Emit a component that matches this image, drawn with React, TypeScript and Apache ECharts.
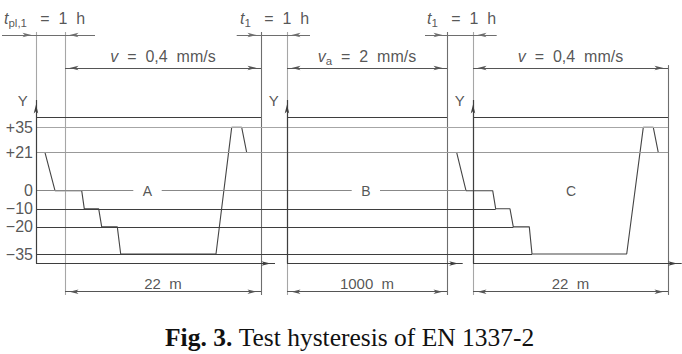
import React, { useEffect, useRef } from "react";
import * as echarts from "echarts";

const W = 682;
const H = 354;

// ---- data ----
const levelValues = [35, 21, 0, -10, -20, -35];
const levelLabels = ["+35", "+21", "0", "−10", "−20", "−35"];
const upperLimit = 40.5;
const timeAxisLevel = -40.2;

// hysteresis cycles: [position along time axis (drawing units), Y]
const cycleA: [number, number][] = [
  [45, 21], [55, 0], [81.7, 0], [84.3, -10], [98.7, -10], [101.7, -20],
  [117.3, -20], [120.7, -35], [216, -35], [231.7, 35], [241.7, 35], [246.7, 21],
];
const cycleC: [number, number][] = [
  [456.7, 21], [466, 0], [492.7, 0], [495.7, -10], [510, -10], [513.3, -20],
  [529.3, -20], [532, -35], [626.7, -35], [643.3, 35], [653.3, 35], [658.3, 21],
];

const panelNames = ["A", "B", "C"];
const holdSubs = ["pl,1", "1", "1"];
const holdValue = "1  h";
const speedSubs = ["", "a", ""];
const speedValues = ["0,4  mm/s", "2  mm/s", "0,4  mm/s"];
const lengthLabels = ["22  m", "1000  m", "22  m"];
const caption = ["Fig. 3.", "Test hysteresis of EN 1337-2"];

// ---- layout (drawing units) ----
const panelAxisX = [36, 287, 473];
const panelStartX = [65, 287, 473];
const panelEndX = [261, 447, 668];
const axisArrowEndX = [275, 462.7, 681.7];
const holdLeftX = [36, 261, 447];
const holdSpan = [[2, 95], [236.7, 310], [425, 496.7]];
const holdTextX = [4, 240, 427];
const namePosX = [147.5, 366, 571];
const zeroGaps = [[133.3, 161.7], [351.7, 380]];

// rows in Y units
const Y_MAX = 105.36;
const Y_MIN = -90.22;
const holdTextY = 95.4;
const holdDimY = 86.0;
const extTopY = 87.7;
const speedTextY = 74.4;
const speedDimY = 67.8;
const speedExtTopY = 69.4;
const yArrowTipY = 50.1;
const lengthTextY = -51.0;
const lengthDimY = -55.8;
const extBottomY = -57.6;

const DARK = "#3e3e3e";
const MID = "#6e6e6e";
const LIGHT = "#a6a6a6";
const TEXT = "#2a2a2a";
const FONT = "Liberation Sans";

function buildOption() {
  const segs: any[] = [];
  const add = (
    x1: number, y1: number, x2: number, y2: number,
    color: string, width = 1.1, fromArrow = false, toArrow = false
  ) => {
    const end = (c: number[], arrow: boolean) => ({
      coord: c,
      symbol: arrow ? "arrow" : "none",
      symbolSize: [3.4, 9],
      symbolOffset: [0, 4.5],
    });
    segs.push([
      { ...end([x1, y1], fromArrow), lineStyle: { color, width, type: "solid" } },
      end([x2, y2], toArrow),
    ]);
  };

  // extension lines
  add(panelAxisX[0], extTopY, panelAxisX[0], yArrowTipY, LIGHT);
  add(panelStartX[0], extTopY, panelStartX[0], extBottomY, LIGHT);
  add(panelEndX[0], extTopY, panelEndX[0], extBottomY, MID);
  add(panelStartX[1], extTopY, panelStartX[1], extBottomY, LIGHT);
  add(panelEndX[1], extTopY, panelEndX[1], extBottomY, MID);
  add(panelStartX[2], extTopY, panelStartX[2], extBottomY, LIGHT);
  add(panelEndX[2], speedExtTopY, panelEndX[2], extBottomY, MID);

  // level lines
  const lastX = panelEndX[2];
  panelAxisX.forEach((x, i) => add(x, upperLimit, panelEndX[i], upperLimit, DARK, 1.2));
  levelValues.forEach((v) => {
    if (v > 0) {
      add(panelAxisX[0], v, lastX, v, v === 35 ? LIGHT : "#999", 1.2);
      return;
    }
    const arrival = (cycleC.find((p) => p[1] === v) as [number, number])[0];
    if (v === 0) {
      add(panelAxisX[0], 0, zeroGaps[0][0], 0, "#888", 1.1);
      add(zeroGaps[0][1], 0, zeroGaps[1][0], 0, "#888", 1.1);
      add(zeroGaps[1][1], 0, arrival, 0, "#888", 1.1);
    } else {
      add(panelAxisX[0], v, arrival, v, DARK, 1.2);
    }
  });

  // time axes and Y axes
  panelAxisX.forEach((x, i) => {
    add(x, timeAxisLevel, axisArrowEndX[i], timeAxisLevel, DARK, 1.2, false, true);
    add(x, timeAxisLevel, x, yArrowTipY, DARK, 1.2, false, true);
  });

  // hold-time, speed and length dimensions
  panelNames.forEach((_, i) => {
    const l = holdLeftX[i];
    const r = panelStartX[i];
    add(holdSpan[i][0], holdDimY, l, holdDimY, MID, 1, false, true);
    add(l, holdDimY, r, holdDimY, MID, 1);
    add(holdSpan[i][1], holdDimY, r, holdDimY, MID, 1, false, true);
    add(panelStartX[i], speedDimY, panelEndX[i], speedDimY, "#555", 1, true, true);
    add(panelStartX[i], lengthDimY, panelEndX[i], lengthDimY, "#555", 1, true, true);
  });

  const rich = {
    it: { fontStyle: "italic", fontSize: 16, lineHeight: 22, fontFamily: FONT, color: TEXT },
    sub: { fontSize: 11.5, lineHeight: 7, verticalAlign: "bottom", fontFamily: FONT, color: TEXT },
    n: { fontSize: 16, lineHeight: 22, fontFamily: FONT, color: TEXT },
  };
  const baseLabel = { show: true, color: TEXT, fontFamily: FONT, fontSize: 15 };

  const texts: any[] = [];
  levelValues.forEach((v, i) =>
    texts.push({
      value: [panelAxisX[0] - 1, v],
      label: { ...baseLabel, fontSize: 16, position: "left", distance: 2, formatter: levelLabels[i] },
    })
  );
  panelAxisX.forEach((x) =>
    texts.push({ value: [x - 13.3, yArrowTipY], label: { ...baseLabel, position: "inside", formatter: "Y" } })
  );
  panelNames.forEach((name, i) => {
    texts.push({ value: [namePosX[i], 0], label: { ...baseLabel, fontSize: 14, position: "inside", formatter: name } });
    texts.push({
      value: [holdTextX[i], holdTextY],
      label: { ...baseLabel, position: "right", distance: 0, rich, formatter: `{it|t}{sub|${holdSubs[i]}}{n|   =  ${holdValue}}` },
    });
    const mid = (panelStartX[i] + panelEndX[i]) / 2;
    const sub = speedSubs[i] ? `{sub|${speedSubs[i]}}` : "";
    texts.push({
      value: [mid, speedTextY],
      label: { ...baseLabel, position: "inside", rich, formatter: `{it|v}${sub}{n|  =  ${speedValues[i]}}` },
    });
    texts.push({
      value: [mid, lengthTextY],
      label: { ...baseLabel, fontSize: 15, position: "inside", formatter: lengthLabels[i] },
    });
  });

  return {
    animation: false,
    backgroundColor: "#fff",
    title: {
      text: `{b|${caption[0]} }{r|${caption[1]}}`,
      left: 160,
      top: 319,
      textStyle: {
        fontWeight: "normal",
        rich: {
          b: { fontFamily: "Liberation Serif", fontWeight: "bold", fontSize: 25.5, color: "#111" },
          r: { fontFamily: "Liberation Serif", fontWeight: "normal", fontSize: 25.5, color: "#111" },
        },
      },
    },
    grid: { left: 0, right: 0, top: 0, bottom: 0, containLabel: false },
    xAxis: { type: "value", min: 0, max: W, show: false },
    yAxis: { type: "value", min: Y_MIN, max: Y_MAX, show: false },
    series: [
      {
        type: "line",
        data: cycleA,
        symbol: "none",
        silent: true,
        lineStyle: { color: "#444", width: 1.1 },
        markLine: {
          silent: true,
          symbol: "none",
          label: { show: false },
          emphasis: { disabled: true },
          lineStyle: { type: "solid" },
          data: segs,
        },
      },
      {
        type: "line",
        data: cycleC,
        symbol: "none",
        silent: true,
        lineStyle: { color: "#444", width: 1.1 },
      },
      {
        type: "scatter",
        symbolSize: 0,
        silent: true,
        data: texts,
      },
    ],
  };
}

export default function App() {
  const ref = useRef<HTMLDivElement>(null);
  useEffect(() => {
    const el = ref.current as HTMLDivElement;
    const chart = echarts.init(el, null, { renderer: "svg", width: W, height: H });
    chart.setOption(buildOption() as any);
    return () => chart.dispose();
  }, []);
  return (
    <div
      ref={ref}
      style={{ position: "fixed", left: 0, top: 0, width: W, height: H, background: "#fff" }}
    />
  );
}
